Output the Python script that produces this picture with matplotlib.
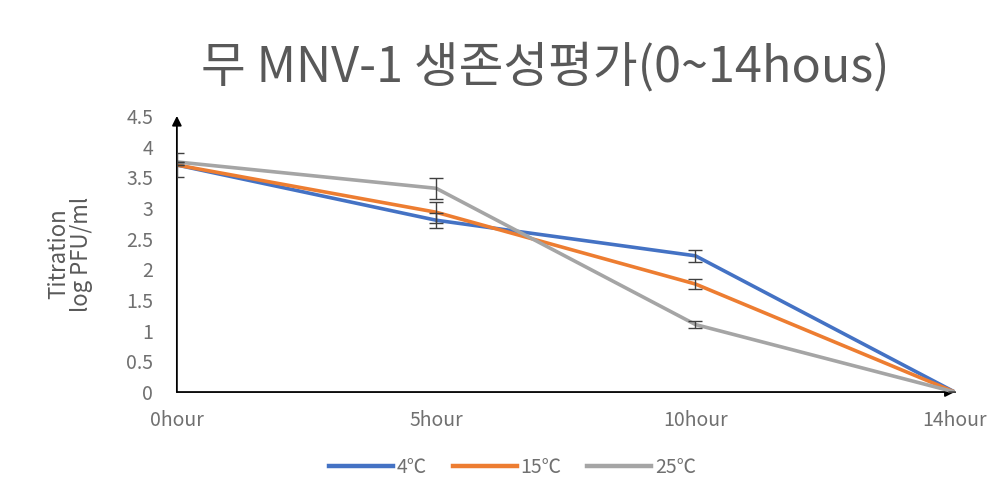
import matplotlib
matplotlib.use("Agg")
import matplotlib.pyplot as plt
import numpy as np

plt.rcParams['font.family'] = ['Noto Sans CJK KR', 'DejaVu Sans']

categories = ["0hour", "5hour", "10hour", "14hour"]
series_names = ["4℃", "15℃", "25℃"]
val_4 = [3.70, 2.80, 2.22, 0.0]
val_15 = [3.70, 2.93, 1.76, 0.0]
val_25 = [3.75, 3.32, 1.10, 0.0]
err_4 = [0.20, 0.12, 0.10, 0.0]
err_15 = [0.0, 0.17, 0.08, 0.0]
err_25 = [0.0, 0.17, 0.05, 0.0]
yticks = [0, 0.5, 1, 1.5, 2, 2.5, 3, 3.5, 4, 4.5]

colors = ["#4472C4", "#ED7D31", "#A5A5A5"]
grey_text = "#595959"
tick_grey = "#707070"

fig = plt.figure(figsize=(10.05, 4.87), dpi=100)
ax = fig.add_axes([0.176, 0.195, 0.774, 0.567])
x = np.arange(len(categories))

for vals, errs, c, name in zip([val_4, val_15, val_25], [err_4, err_15, err_25], colors, series_names):
    ax.plot(x, vals, color=c, lw=2.6, label=name, zorder=3, solid_joinstyle='round')
    ax.errorbar(x, vals, yerr=errs, fmt='none', ecolor="#404040", elinewidth=1.0,
                capsize=5, capthick=1.0, zorder=4)

ax.set_xlim(0, len(categories) - 1)
ax.set_ylim(0, 4.5)
ax.set_xticks(x)
ax.set_xticklabels(categories, fontsize=14, color=tick_grey)
ax.set_yticks(yticks)
ax.set_yticklabels([f"{t:g}" for t in yticks], fontsize=14, color=tick_grey)
ax.tick_params(axis='y', length=0, pad=17)
ax.tick_params(axis='x', length=0, pad=13)
for s in ax.spines.values():
    s.set_visible(False)

# axes with arrowheads
ax.annotate("", xy=(1.0, 0), xytext=(0, 0), xycoords='axes fraction',
            arrowprops=dict(arrowstyle="-|>", color="black", lw=1.3, mutation_scale=14,
                            shrinkA=0, shrinkB=0), zorder=2)
ax.annotate("", xy=(0, 1.0), xytext=(0, 0), xycoords='axes fraction',
            arrowprops=dict(arrowstyle="-|>", color="black", lw=1.3, mutation_scale=14,
                            shrinkA=0, shrinkB=0), zorder=2)

ax.set_ylabel("Titration\nlog PFU/ml", fontsize=16, color=grey_text, linespacing=1.0)
ax.yaxis.set_label_coords(-0.108, 0.5)

fig.text(0.543, 0.862, "무 MNV-1 생존성평가(0~14hous)", fontsize=35, color=grey_text,
         ha='center', va='center')

leg = fig.legend(loc='center', bbox_to_anchor=(0.51, 0.041), ncol=3, frameon=False,
                 fontsize=14, handlelength=3.3, handletextpad=0.2, columnspacing=1.3)
for line in leg.get_lines():
    line.set_linewidth(3.2)
for t in leg.get_texts():
    t.set_color(tick_grey)

fig.savefig("out.png", dpi=100)
